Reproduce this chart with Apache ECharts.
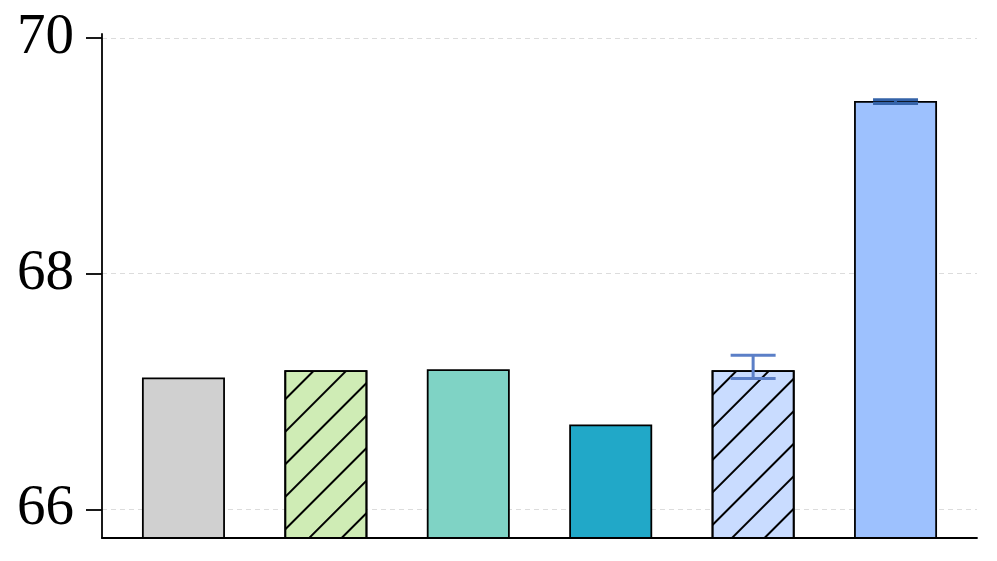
<!DOCTYPE html>
<html>
<head>
<meta charset="utf-8">
<script src="https://cdn.jsdelivr.net/npm/echarts@6/dist/echarts.min.js"></script>
<style>
  html, body { margin: 0; padding: 0; background: #fff; }
  #main { width: 997px; height: 561px; }
</style>
</head>
<body>
<div id="main"></div>
<script>
// bar values, colours and hatch flags
var values = [67.12, 67.18, 67.19, 66.72, 67.18, 69.466];
var colors = ['#d0d0d0', '#cfecb5', '#7fd3c5', '#21a8c8', '#c9dcff', '#9dc1fe'];
var hatched = [false, true, false, false, true, false];
// error bars: index, low, high, colour
var errIndex = [4, 5];
var errLow = [67.11, 69.445];
var errHigh = [67.308, 69.476];
var errColors = ['#5b7fc7', '#3563a8'];
var yTicks = [66, 68, 70];

var myChart = echarts.init(document.getElementById('main'));

var barData = values.map(function (v, i) {
    var style = { color: colors[i], borderColor: '#000', borderWidth: 1.8 };
    if (hatched[i]) {
        style.decal = {
            symbol: 'rect',
            symbolSize: 1,
            color: '#000',
            dashArrayX: [1, 0],
            dashArrayY: [2, 21],
            rotation: -Math.PI / 4
        };
    }
    return { value: [i, v], itemStyle: style };
});

var errData = errIndex.map(function (idx, k) {
    return { value: [idx, errLow[k], errHigh[k]], itemStyle: { color: errColors[k] } };
});

var option = {
    animation: false,
    grid: { left: 102, right: 20, top: 34, bottom: 23 },
    xAxis: {
        type: 'value',
        min: -0.572,
        max: 5.572,
        axisLine: { show: true, onZero: false, lineStyle: { color: '#000', width: 1.8 } },
        axisTick: { show: false },
        axisLabel: { show: false },
        splitLine: { show: false }
    },
    yAxis: {
        type: 'value',
        min: 65.757,
        max: 70.034,
        interval: 2,
        axisLine: { show: true, onZero: false, lineStyle: { color: '#000', width: 1.8 } },
        axisTick: { show: true, length: 16, lineStyle: { color: '#000', width: 1.8 },
            customValues: yTicks },
        axisLabel: {
            fontFamily: 'Liberation Serif',
            fontSize: 57,
            color: '#000',
            margin: 28,
            customValues: yTicks
        },
        splitLine: {
            show: true,
            lineStyle: { color: '#dcdcdc', type: [5, 4], width: 1 }
        }
    },
    series: [
        {
            type: 'bar',
            barWidth: 83,
            data: barData
        },
        {
            type: 'custom',
            z: 5,
            renderItem: function (params, api) {
                var x = api.value(0);
                var lo = api.coord([x, api.value(1)]);
                var hi = api.coord([x, api.value(2)]);
                var half = 22.5;
                var style = { stroke: api.visual('color'), lineWidth: 3 };
                return {
                    type: 'group',
                    children: [
                        { type: 'line', shape: { x1: lo[0], y1: lo[1], x2: hi[0], y2: hi[1] }, style: style },
                        { type: 'line', shape: { x1: lo[0] - half, y1: lo[1], x2: lo[0] + half, y2: lo[1] }, style: style },
                        { type: 'line', shape: { x1: hi[0] - half, y1: hi[1], x2: hi[0] + half, y2: hi[1] }, style: style }
                    ]
                };
            },
            data: errData
        }
    ]
};
myChart.setOption(option);
</script>
</body>
</html>
